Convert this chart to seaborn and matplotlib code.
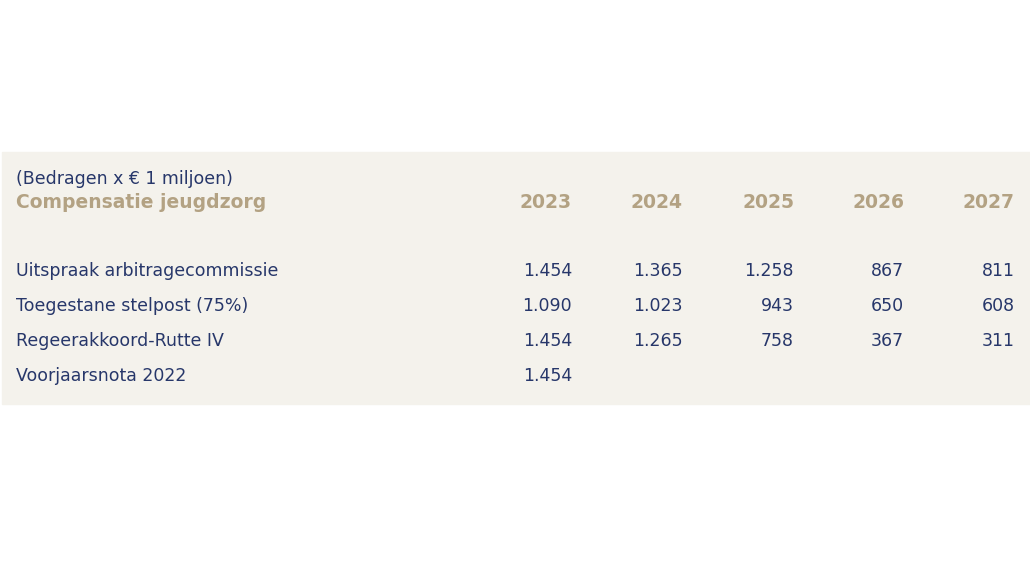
import matplotlib.pyplot as plt
import seaborn as sns
from matplotlib.patches import Rectangle

# Table data
years = ["2023", "2024", "2025", "2026", "2027"]
row_labels = ["Uitspraak arbitragecommissie", "Toegestane stelpost (75%)",
              "Regeerakkoord-Rutte IV", "Voorjaarsnota 2022"]
uitspraak = ["1.454", "1.365", "1.258", "867", "811"]
stelpost = ["1.090", "1.023", "943", "650", "608"]
rutte = ["1.454", "1.265", "758", "367", "311"]
voorjaar = ["1.454", "", "", "", ""]
rows = [uitspraak, stelpost, rutte, voorjaar]

subtitle = "(Bedragen x € 1 miljoen)"
title = "Compensatie jeugdzorg"

navy = "#27376a"
tan = "#b3a283"
bg = "#f4f2ec"

sns.set_style("white")
fig = plt.figure(figsize=(10.3, 5.8), dpi=100)
ax = fig.add_axes([0, 0, 1, 1])
ax.set_xlim(0, 1030)
ax.set_ylim(580, 0)
ax.axis("off")

ax.add_patch(Rectangle((2, 152), 1028, 252, color=bg, zorder=0))

col_x = [572, 683, 794, 904, 1015]
row_y = [271, 306, 341, 376]

ax.text(16, 179, subtitle, fontsize=12.5, color=navy, va="center", family="DejaVu Sans")
ax.text(16, 203, title, fontsize=13.5, color=tan, va="center", weight="bold")
for x, yr in zip(col_x, years):
    ax.text(x, 203, yr, fontsize=13.5, color=tan, va="center", ha="right", weight="bold")

for y, lab, vals in zip(row_y, row_labels, rows):
    ax.text(16, y, lab, fontsize=12.5, color=navy, va="center")
    for x, v in zip(col_x, vals):
        ax.text(x, y, v, fontsize=12.5, color=navy, va="center", ha="right")

fig.savefig("out.png", dpi=100)
